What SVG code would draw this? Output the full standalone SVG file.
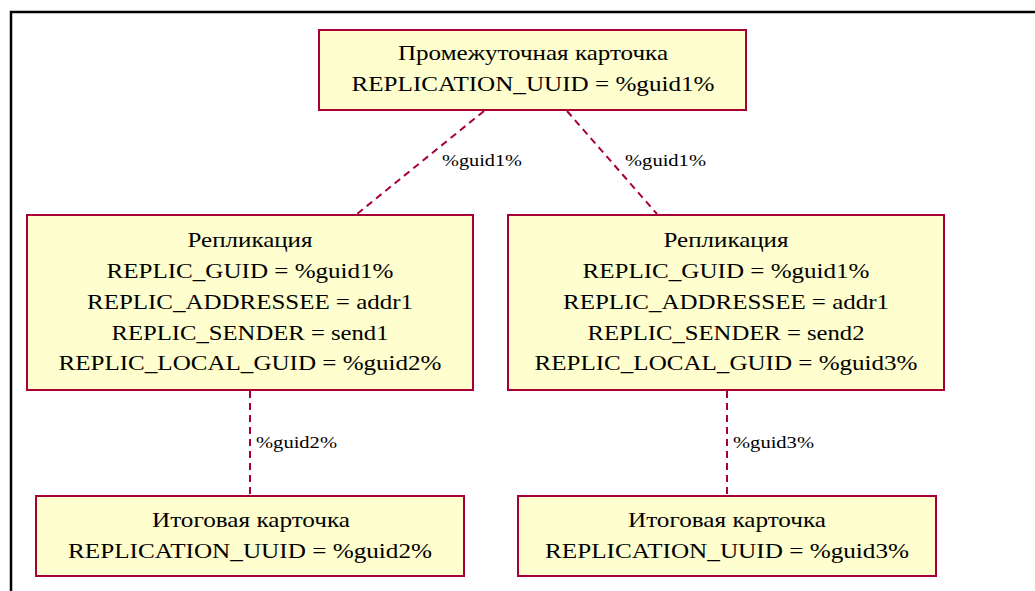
<svg xmlns="http://www.w3.org/2000/svg" width="1035" height="591" viewBox="0 0 1035 591">
<style>
.box{fill:#FEFECE;stroke:#A80036;stroke-width:2}
.t{font-family:"Liberation Serif","Times New Roman",serif;font-size:21px;fill:#000;text-anchor:middle}
.l{font-family:"Liberation Serif","Times New Roman",serif;font-size:17px;fill:#000}
.c{stroke:#A80036;stroke-width:2;stroke-dasharray:7,5;fill:none}
</style>
<rect width="1035" height="591" fill="#fff"/>
<path d="M11 591 V12 H1035" fill="none" stroke="#000" stroke-width="2.5"/>
<g id="connectors">
<line class="c" x1="484" y1="111" x2="357" y2="214"/>
<line class="c" x1="567" y1="111" x2="657" y2="214"/>
<line class="c" x1="250" y1="391" x2="250" y2="495"/>
<line class="c" x1="727" y1="391" x2="727" y2="495"/>
<text class="l" x="442" y="166" textLength="80" lengthAdjust="spacingAndGlyphs">%guid1%</text>
<text class="l" x="625" y="166" textLength="81" lengthAdjust="spacingAndGlyphs">%guid1%</text>
<text class="l" x="256" y="448" textLength="81" lengthAdjust="spacingAndGlyphs">%guid2%</text>
<text class="l" x="733" y="448" textLength="81" lengthAdjust="spacingAndGlyphs">%guid3%</text>
</g>
<g id="top">
<rect class="box" x="319" y="30" width="427" height="80"/>
<text class="t" x="533" y="60" textLength="270" lengthAdjust="spacingAndGlyphs">Промежуточная карточка</text>
<text class="t" x="533" y="91" textLength="363" lengthAdjust="spacingAndGlyphs">REPLICATION_UUID = %guid1%</text>
</g>
<g id="repl1">
<rect class="box" x="27" y="215" width="446" height="175"/>
<text class="t" x="250" y="247" textLength="125" lengthAdjust="spacingAndGlyphs">Репликация</text>
<text class="t" x="250" y="278" textLength="287" lengthAdjust="spacingAndGlyphs">REPLIC_GUID = %guid1%</text>
<text class="t" x="250" y="309" textLength="326" lengthAdjust="spacingAndGlyphs">REPLIC_ADDRESSEE = addr1</text>
<text class="t" x="250" y="340" textLength="277" lengthAdjust="spacingAndGlyphs">REPLIC_SENDER = send1</text>
<text class="t" x="250" y="370" textLength="383" lengthAdjust="spacingAndGlyphs">REPLIC_LOCAL_GUID = %guid2%</text>
</g>
<g id="repl2">
<rect class="box" x="508" y="215" width="436" height="175"/>
<text class="t" x="726" y="247" textLength="125" lengthAdjust="spacingAndGlyphs">Репликация</text>
<text class="t" x="726" y="278" textLength="287" lengthAdjust="spacingAndGlyphs">REPLIC_GUID = %guid1%</text>
<text class="t" x="726" y="309" textLength="326" lengthAdjust="spacingAndGlyphs">REPLIC_ADDRESSEE = addr1</text>
<text class="t" x="726" y="340" textLength="277" lengthAdjust="spacingAndGlyphs">REPLIC_SENDER = send2</text>
<text class="t" x="726" y="370" textLength="383" lengthAdjust="spacingAndGlyphs">REPLIC_LOCAL_GUID = %guid3%</text>
</g>
<g id="final1">
<rect class="box" x="36" y="496" width="428" height="80"/>
<text class="t" x="251" y="527" textLength="198" lengthAdjust="spacingAndGlyphs">Итоговая карточка</text>
<text class="t" x="250" y="558" textLength="364" lengthAdjust="spacingAndGlyphs">REPLICATION_UUID = %guid2%</text>
</g>
<g id="final2">
<rect class="box" x="518" y="496" width="418" height="80"/>
<text class="t" x="727" y="527" textLength="198" lengthAdjust="spacingAndGlyphs">Итоговая карточка</text>
<text class="t" x="727" y="558" textLength="364" lengthAdjust="spacingAndGlyphs">REPLICATION_UUID = %guid3%</text>
</g>
</svg>
